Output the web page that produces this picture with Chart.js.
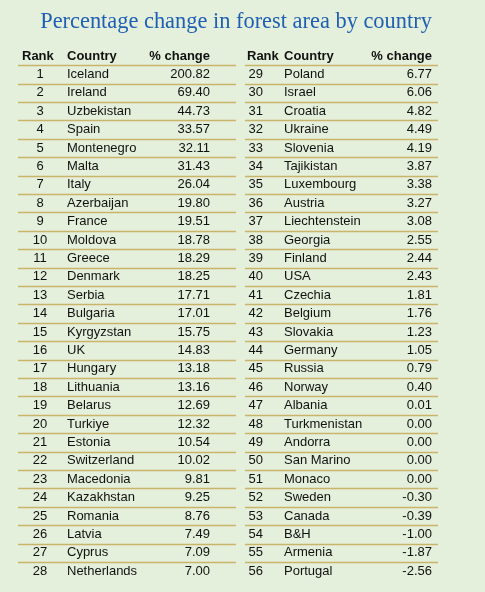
<!DOCTYPE html>
<html><head><meta charset="utf-8">
<script src="https://cdn.jsdelivr.net/npm/chart.js@4"></script>
<style>html,body{margin:0;padding:0;background:#e4f0dc;}#c{display:block}</style>
</head><body>
<div style="width:485px;height:592px"><canvas id="c"></canvas></div>
<script>
const title = 'Percentage change in forest area by country';
const headers = ['Rank', 'Country', '% change'];
const ranks = Array.from({length: 56}, (_, i) => i + 1);
const countries = ['Iceland','Ireland','Uzbekistan','Spain','Montenegro','Malta','Italy','Azerbaijan','France','Moldova','Greece','Denmark','Serbia','Bulgaria','Kyrgyzstan','UK','Hungary','Lithuania','Belarus','Turkiye','Estonia','Switzerland','Macedonia','Kazakhstan','Romania','Latvia','Cyprus','Netherlands',
  'Poland','Israel','Croatia','Ukraine','Slovenia','Tajikistan','Luxembourg','Austria','Liechtenstein','Georgia','Finland','USA','Czechia','Belgium','Slovakia','Germany','Russia','Norway','Albania','Turkmenistan','Andorra','San Marino','Monaco','Sweden','Canada','B&H','Armenia','Portugal'];
const changes = [200.82,69.40,44.73,33.57,32.11,31.43,26.04,19.80,19.51,18.78,18.29,18.25,17.71,17.01,15.75,14.83,13.18,13.16,12.69,12.32,10.54,10.02,9.81,9.25,8.76,7.49,7.09,7.00,
  6.77,6.06,4.82,4.49,4.19,3.87,3.38,3.27,3.08,2.55,2.44,2.43,1.81,1.76,1.23,1.05,0.79,0.40,0.01,0.00,0.00,0.00,0.00,-0.30,-0.39,-1.00,-1.87,-2.56];

const ROW = 18.4, TOP = 56;
const font = '13px "Liberation Sans", Arial, sans-serif';
const hfont = '600 13px "Liberation Sans", Arial, sans-serif';

const tablePlugin = {
  id: 'table',
  afterDraw(chart) {
    const ctx = chart.ctx, x = chart.scales.x, y = chart.scales.y;
    ctx.save();
    ctx.fillStyle = '#1f5fb3';
    // fit the title to the width it has in the original
    let size = 24;
    ctx.font = size + 'px "Liberation Serif", serif';
    size = size * 392 / ctx.measureText(title).width;
    ctx.font = size.toFixed(1) + 'px "Liberation Serif", serif';
    ctx.textAlign = 'center'; ctx.textBaseline = 'middle';
    ctx.fillText(title, x.getPixelForValue(236), y.getPixelForValue(-1.84));
    // row lines
    ctx.strokeStyle = '#c9b469'; ctx.lineWidth = 1.4;
    for (let r = 0; r < 28; r++) {
      const py = Math.round(y.getPixelForValue(r + 0.5)) + 0.5;
      [[18, 236], [245, 438]].forEach(([a, b]) => {
        ctx.beginPath(); ctx.moveTo(x.getPixelForValue(a), py); ctx.lineTo(x.getPixelForValue(b), py); ctx.stroke();
      });
    }
    ctx.fillStyle = '#111';
    const blocks = [
      {rankX: 40, rankAlign: 'center', cX: 67, vX: 210, hRank: 22, off: 0},
      {rankX: 263, rankAlign: 'right', cX: 284, vX: 432, hRank: 247, off: 28}
    ];
    blocks.forEach(b => {
      const hy = y.getPixelForValue(0);
      ctx.font = hfont;
      ctx.textAlign = 'left'; ctx.fillText(headers[0], x.getPixelForValue(b.hRank), hy);
      ctx.fillText(headers[1], x.getPixelForValue(b.cX), hy);
      ctx.textAlign = 'right'; ctx.fillText(headers[2], x.getPixelForValue(b.vX), hy);
      ctx.font = font;
      for (let i = 0; i < 28; i++) {
        const k = b.off + i, py = y.getPixelForValue(i + 1);
        ctx.textAlign = b.rankAlign; ctx.fillText(String(ranks[k]), x.getPixelForValue(b.rankX), py);
        ctx.textAlign = 'left'; ctx.fillText(countries[k], x.getPixelForValue(b.cX), py);
        ctx.textAlign = 'right'; ctx.fillText(changes[k].toFixed(2), x.getPixelForValue(b.vX), py);
      }
    });
    ctx.restore();
  }
};

new Chart(document.getElementById('c'), {
  type: 'scatter',
  data: { datasets: [{ data: [], pointRadius: 0 }] },
  options: {
    responsive: true, maintainAspectRatio: false, animation: false,
    layout: { padding: 0 },
    plugins: { legend: { display: false }, tooltip: { enabled: false } },
    scales: {
      x: { type: 'linear', min: 0, max: 485, display: false },
      y: { type: 'linear', reverse: true, min: -TOP / ROW, max: (592 - TOP) / ROW, display: false }
    }
  },
  plugins: [tablePlugin]
});
</script>
</body></html>
